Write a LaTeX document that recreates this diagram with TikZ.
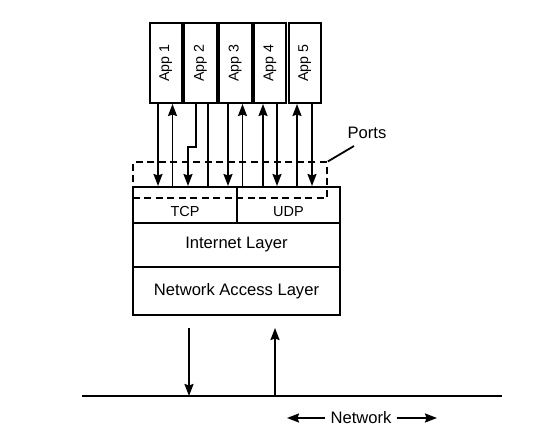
\documentclass[tikz,border=0pt]{standalone}
\usepackage{graphicx}
\usepackage{fontspec}
\setmainfont{Liberation Sans}
\usetikzlibrary{arrows.meta,calc}
\begin{document}
\begin{tikzpicture}[x=1pt,y=-1pt,
  box/.style={draw,line width=2pt,inner sep=0pt,anchor=north west},
  appbox/.style={box,minimum width=32.5pt,minimum height=80pt,font=\fontsize{14.2}{16}\selectfont},
  smallbox/.style={box,minimum width=104pt,minimum height=36pt},
  smalltext/.style={inner sep=0pt,font=\fontsize{14.5}{17}\selectfont},
  layerbox/.style={box,minimum width=207pt,minimum height=44pt,font=\fontsize{16.6}{20}\selectfont},
  arr/.style={line width=1.8pt,-{Stealth[length=12pt,width=9pt,inset=1.5pt]}},
  plain/.style={line width=1.8pt},
  dashbox/.style={draw,line width=1.8pt,dash pattern=on 7pt off 4.5pt,inner sep=0pt,anchor=north west,minimum width=194pt,minimum height=36pt},
  lbl/.style={font=\fontsize{16.6}{20}\selectfont,inner sep=0pt}]
\useasboundingbox (0,0) rectangle (534,443);
% application boxes
\node[appbox] (a1) at (148.5,22) {\rotatebox{90}{App 1}};
\node[appbox] (a2) at (183.25,22) {\rotatebox{90}{App 2}};
\node[appbox] (a3) at (218,22) {\rotatebox{90}{App 3}};
\node[appbox] (a4) at (252.75,22) {\rotatebox{90}{App 4}};
\node[appbox] (a5) at (287.5,22) {\rotatebox{90}{App 5}};
% stack
\node[smallbox] (tcp) at (132,186) {};
\node[smallbox,minimum width=103pt] (udp) at (236,186) {};
\node[smalltext] (tcpt) at ([yshift=-7pt]tcp.center) {TCP};
\node[smalltext] (udpt) at ([yshift=-7pt]udp.center) {UDP};
\node[layerbox] (inet) at (132,222) {Internet Layer};
\node[layerbox,minimum height=48pt] (nal) at (132,266) {Network Access Layer};
% ports box
\node[dashbox] (pbox) at (132,161.5) {};
\node[lbl] (ports) at (367,133) {Ports};
\coordinate (pl) at (354,146);
\draw[plain] (pbox.north east) -- (pl);
% x positions
\coordinate (x1) at (158,0);
\coordinate (x2) at (172.5,0);
\coordinate (x3) at (196,0);
\coordinate (x3b) at (188,0);
\coordinate (x4) at (208,0);
\coordinate (x5) at (228,0);
\coordinate (x6) at (242.5,0);
\coordinate (x7) at (263,0);
\coordinate (x8) at (277,0);
\coordinate (x9) at (297,0);
\coordinate (x10) at (312,0);
\coordinate (jog) at (0,147);
% app arrows
\draw[arr] (a1.south -| x1) -- (tcp.north -| x1);
\draw[arr] (tcp.north -| x2) -- (a1.south -| x2);
\draw[arr] (a2.south -| x3) -- (jog -| x3) -- (jog -| x3b) -- (tcp.north -| x3b);
\draw[plain] (a2.south -| x4) -- (tcp.north -| x4);
\draw[arr] (a3.south -| x5) -- (tcp.north -| x5);
\draw[arr] (udp.north -| x6) -- (a3.south -| x6);
\draw[arr] (udp.north -| x7) -- (a4.south -| x7);
\draw[arr] (a4.south -| x8) -- (udp.north -| x8);
\draw[arr] (udp.north -| x9) -- (a5.south -| x9);
\draw[arr] (a5.south -| x10) -- (udp.north -| x10);
% network
\coordinate (nl) at (82,396);
\coordinate (nr) at (502,396);
\draw[line width=2pt] (nl) -- (nr);
\coordinate (b1) at (189,328);
\coordinate (b2) at (275,328);
\draw[arr] (b1) -- (b1 |- nl);
\draw[arr] (b2 |- nl) -- (b2);
\node[lbl] (net) at (361,418) {Network};
\coordinate (nwl) at (287,418);
\coordinate (nwr) at (437,418);
\draw[arr] ([xshift=-5pt]net.west) -- (nwl);
\draw[arr] ([xshift=5pt]net.east) -- (nwr);
\end{tikzpicture}
\end{document}
